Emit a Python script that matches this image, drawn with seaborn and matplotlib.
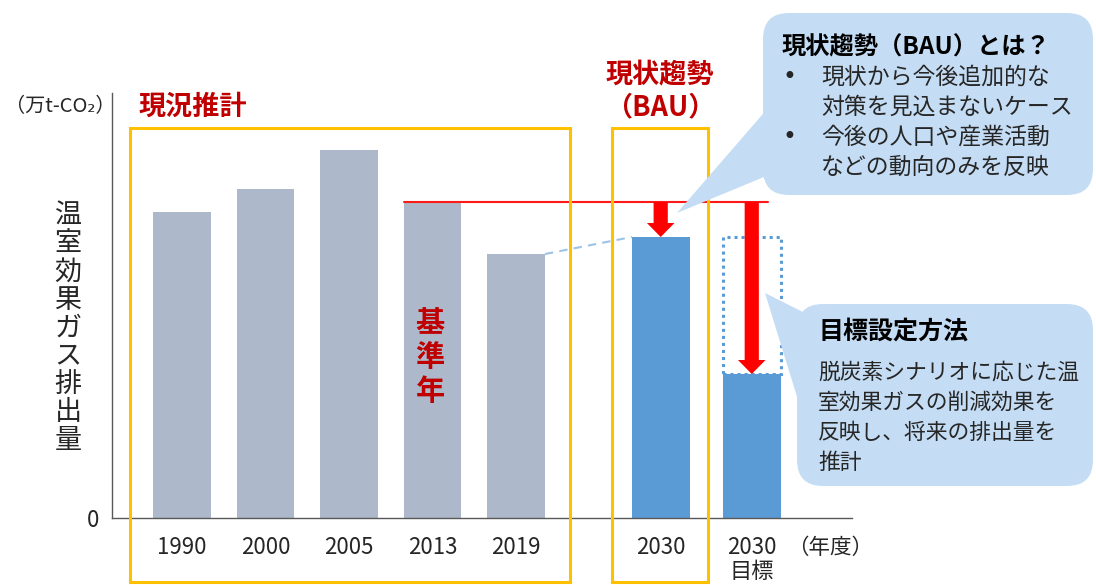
import numpy as np
import pandas as pd
import matplotlib
matplotlib.use("Agg")
import matplotlib.pyplot as plt
import matplotlib.transforms as mtrans
from matplotlib.patches import Rectangle, FancyBboxPatch, Polygon, FancyArrow
import seaborn as sns

# data (arbitrary units)
years = ["1990", "2000", "2005", "2013", "2019", "2030", "2030\n目標"]
emissions = [306, 329, 368, 316, 264, 281, 144]
phase = ["現況", "現況", "現況", "現況", "現況", "将来", "将来"]
slot = [0, 1, 2, 3, 4, 5.73, 6.82]   # layout positions of the bars

base_year = 3   # 2013
bau = 5
target = 6

sns.set_theme(style="white")
plt.rcParams['font.family'] = ['Noto Sans CJK JP', 'DejaVu Sans']

W, H = 1096, 585
fig = plt.figure(figsize=(W / 100, H / 100), dpi=100)
fig.patch.set_facecolor("white")
ax = fig.add_axes([112 / W, 1 - 518 / H, (852 - 112) / W, (518 - 93) / H])

# pixel coords (top-left origin) for annotations
px = mtrans.Affine2D().scale(1 / W, -1 / H).translate(0, 1) + fig.transFigure

df = pd.DataFrame({"pos": slot, "val": emissions, "phase": phase})
bw = 0.69
sns.barplot(data=df, x="pos", y="val", hue="phase", native_scale=True,
            dodge=False, width=bw, saturation=1, linewidth=0, legend=False,
            palette={"現況": "#ADB9CA", "将来": "#5B9BD5"}, errorbar=None, ax=ax)

ax.set_xlim(-0.838, 8.02)
ax.set_ylim(0, 425)
ax.set_xlabel("")
ax.set_ylabel("")
ax.set_xticks(slot)
ax.set_xticklabels(years, fontsize=16, color="#262626", linespacing=1.05)
ax.set_yticks([0])
ax.set_yticklabels(["0"], fontsize=16, color="#262626")
ax.tick_params(axis="both", length=0)
ax.tick_params(axis="x", pad=13)
ax.tick_params(axis="y", pad=9)
for s in ["top", "right"]:
    ax.spines[s].set_visible(False)
for s in ["left", "bottom"]:
    ax.spines[s].set_color("#595959")
    ax.spines[s].set_linewidth(1.0)

# base-year reference line
ax.plot([slot[base_year] - bw / 2, 7.02], [emissions[base_year]] * 2,
        color="#FF1A1A", lw=1.5, zorder=4)

# dashed link 2019 -> 2030
ax.plot([slot[4] + bw / 2, slot[bau] - bw / 2], [emissions[4], emissions[bau]],
        color="#9DC3E6", lw=1.5, ls=(0, (4, 3)), zorder=4)

# dotted outline of BAU level over target bar
ax.add_patch(Rectangle((slot[target] - bw / 2, emissions[target]), bw,
                       emissions[bau] - emissions[target], fill=False,
                       edgecolor="#5B9BD5", lw=2.2, ls=(0, (1, 1.3)), zorder=3))

# red arrows
for i in [bau, target]:
    y0 = emissions[base_year]
    ax.add_patch(FancyArrow(slot[i], y0, 0, emissions[i] - y0, width=0.17,
                            head_width=0.33, head_length=14,
                            length_includes_head=True, color="#FF0000",
                            lw=0, zorder=5))

# yellow boxes
for x0, x1 in [(-0.623, 4.647), (5.15, 6.30)]:
    ax.add_patch(Rectangle((x0, -64), x1 - x0, 454, fill=False,
                           edgecolor="#FFC000", lw=2.2, clip_on=False, zorder=6))

# texts
dark = "#262626"
red = "#C00000"
fig.text(5, 107, "（万t-CO₂）", transform=px, fontsize=14.5, color=dark,
         va="center", ha="left")
ylab = "温室効果ガス排出量"
for k, ch in enumerate(ylab):
    fig.text(68, 216 + k * 28, ch, transform=px, fontsize=19.5, color=dark,
             ha="center", va="center")
fig.text(139, 107, "現況推計", transform=px, fontsize=19.5, color=red,
         fontweight="bold", ha="left", va="center")
fig.text(660, 75, "現状趨勢", transform=px, fontsize=19.5, color=red,
         fontweight="bold", ha="center", va="center")
fig.text(660, 107, "（BAU）", transform=px, fontsize=19.5, color=red,
         fontweight="bold", ha="center", va="center")
for k, ch in enumerate("基準年"):
    fig.text(430, 323 + k * 34, ch, transform=px, fontsize=21, color=red,
             fontweight="bold", ha="center", va="center")
fig.text(830, 548, "（年度）", transform=px, fontsize=15.5, color=dark,
         ha="center", va="center")

# callouts
blue_bg = "#C5DDF4"
fig.add_artist(Polygon([(677, 213), (775, 100), (805, 160)], closed=True,
                       transform=px, facecolor=blue_bg, edgecolor="none"))
fig.add_artist(FancyBboxPatch((763, 13), 330, 182,
                              boxstyle="round,pad=0,rounding_size=26",
                              transform=px, facecolor=blue_bg, edgecolor="none"))
fig.add_artist(Polygon([(765, 293), (815, 318), (815, 455)], closed=True,
                       transform=px, facecolor=blue_bg, edgecolor="none"))
fig.add_artist(FancyBboxPatch((797, 304), 296, 182,
                              boxstyle="round,pad=0,rounding_size=26",
                              transform=px, facecolor=blue_bg, edgecolor="none"))

fig.text(782, 47, "現状趨勢（BAU）とは？", transform=px, fontsize=17.5,
         fontweight="bold", color="black", ha="left", va="center")
bau_lines = ["現状から今後追加的な", "対策を見込まないケース",
             "今後の人口や産業活動", "などの動向のみを反映"]
for k, t in enumerate(bau_lines):
    yy = 77 + k * 30
    if k in (0, 2):
        fig.text(789, yy, "•", transform=px, fontsize=17, color=dark,
                 ha="center", va="center", family="DejaVu Sans")
    fig.text(821, yy, t, transform=px, fontsize=16.5, color=dark,
             ha="left", va="center")

fig.text(818, 332, "目標設定方法", transform=px, fontsize=18,
         fontweight="bold", color="black", ha="left", va="center")
tgt_lines = ["脱炭素シナリオに応じた温", "室効果ガスの削減効果を",
             "反映し、将来の排出量を", "推計"]
for k, t in enumerate(tgt_lines):
    fig.text(818, 373 + k * 30, t, transform=px, fontsize=15.7, color=dark,
             ha="left", va="center")

fig.savefig("out.png", dpi=100, facecolor="white")
